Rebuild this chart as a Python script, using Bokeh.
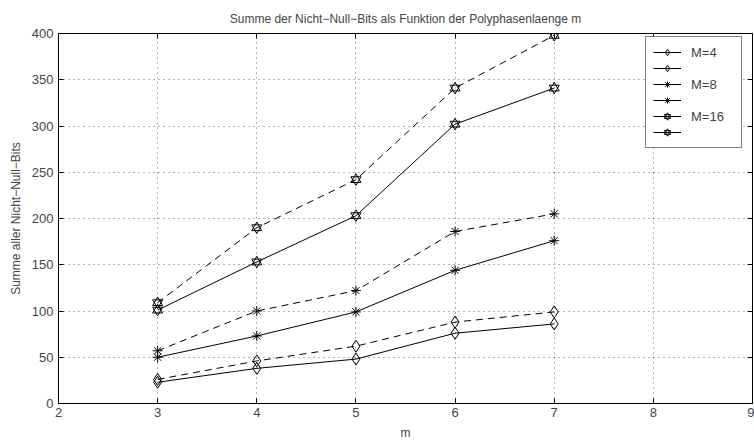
from bokeh.plotting import figure
from bokeh.models import (LinearAxis, Legend, LegendItem, Range1d, FixedTicker,
                          ColumnDataSource)
from bokeh.embed import file_html
from bokeh.resources import INLINE

m = [3, 4, 5, 6, 7]
m4_solid = [23, 38, 48, 76, 86]
m4_dashed = [26, 46, 62, 88, 99]
m8_solid = [50, 73, 99, 144, 176]
m8_dashed = [57, 100, 122, 186, 205]
m16_solid = [101, 153, 203, 302, 341]
m16_dashed = [109, 190, 242, 341, 398]
labels = ["M=4", " ", "M=8", " ", "M=16", " "]
x_ticks = [2, 3, 4, 5, 6, 7, 8, 9]
y_ticks = list(range(0, 401, 50))
title_text = "Summe der Nicht\u2212Null\u2212Bits als Funktion der Polyphasenlaenge m"

FONT = "Liberation Sans"

p = figure(width=754, height=444, output_backend="svg", toolbar_location=None,
           x_range=Range1d(2, 9), y_range=Range1d(0, 400),
           x_axis_label="m", y_axis_label="Summe aller Nicht\u2212Null\u2212Bits",
           title=title_text)
p.min_border_left = 58
p.min_border_right = 2
p.min_border_top = 33
p.min_border_bottom = 41
p.background_fill_color = "white"
p.border_fill_color = "white"
p.outline_line_color = "black"
p.outline_line_width = 1

p.title.text_font = FONT
p.title.text_font_size = "12px"
p.title.text_font_style = "normal"
p.title.align = "center"
p.title.offset = 0
p.title.standoff = 12
p.title.vertical_align = "top"

for ax in p.xaxis + p.yaxis:
    ax.major_tick_in = 5
    ax.major_tick_out = 0
    ax.minor_tick_line_color = None
    ax.major_label_text_font = FONT
    ax.major_label_text_font_size = "13px"
    ax.axis_label_text_font = FONT
    ax.axis_label_text_font_size = "12px"
    ax.axis_label_text_font_style = "normal"
    ax.axis_line_color = "black"
    ax.major_tick_line_color = "black"
p.xaxis.ticker = FixedTicker(ticks=x_ticks)
p.yaxis.ticker = FixedTicker(ticks=y_ticks)
p.xaxis.major_label_standoff = 4
p.xaxis.axis_label_standoff = 6
p.yaxis.major_label_standoff = 5
p.yaxis.axis_label_standoff = 6

for loc, ticks in [("above", x_ticks), ("right", y_ticks)]:
    ax = LinearAxis(ticker=FixedTicker(ticks=ticks))
    ax.major_tick_in = 5
    ax.major_tick_out = 0
    ax.minor_tick_line_color = None
    ax.major_label_overrides = {t: "" for t in ticks}
    ax.major_label_standoff = 0
    ax.axis_line_color = "black"
    p.add_layout(ax, loc)

p.xgrid.ticker = FixedTicker(ticks=x_ticks)
p.ygrid.ticker = FixedTicker(ticks=y_ticks)
for g in [p.xgrid, p.ygrid]:
    g.grid_line_color = "black"
    g.grid_line_dash = "1 4"
    g.grid_line_alpha = 0.6

DASH = "7 5"

def add_series(y, dash, marker):
    src = ColumnDataSource(dict(x=m, y=y))
    line = p.line("x", "y", source=src, line_color="black", line_width=1, line_dash=dash)
    marks = []
    if marker == "hexagram":
        marks.append(p.scatter("x", "y", source=src, marker="triangle", size=10,
                               fill_color=None, line_color="black"))
        marks.append(p.scatter("x", "y", source=src, marker="inverted_triangle", size=10,
                               fill_color=None, line_color="black"))
    else:
        size = 12 if marker == "diamond" else 10
        marks.append(p.scatter("x", "y", source=src, marker=marker, size=size,
                               fill_color=None, line_color="black"))
    return line, marks

series = [
    (m4_solid, "solid", "diamond"),
    (m4_dashed, DASH, "diamond"),
    (m8_solid, "solid", "asterisk"),
    (m8_dashed, DASH, "asterisk"),
    (m16_solid, "solid", "hexagram"),
    (m16_dashed, DASH, "hexagram"),
]
items = []
solid_line = None
for (y, dash, mk), lab in zip(series, labels):
    line, marks = add_series(y, dash, mk)
    if dash == "solid":
        solid_line = line
    # legend lines are short, so they look solid in the reference
    items.append(LegendItem(label=lab, renderers=[solid_line] + marks))

legend = Legend(items=items, location=(587, 255))
legend.border_line_color = "black"
legend.border_line_width = 1
legend.background_fill_alpha = 1
legend.label_text_font = FONT
legend.label_text_font_size = "13px"
legend.glyph_width = 28
legend.glyph_height = 16
legend.label_height = 16
legend.label_width = 43
legend.spacing = 0
legend.padding = 7
legend.margin = 0
legend.label_standoff = 10
p.add_layout(legend, "center")

open("out.html", "w").write(file_html(p, INLINE))
